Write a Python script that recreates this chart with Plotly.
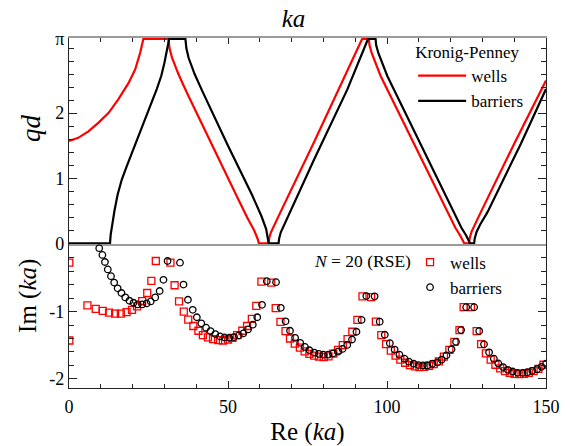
import math
import plotly.graph_objects as go

PI = math.pi

# ---- Top panel: Kronig-Penney band structure qd(ka) ----
kp_wells_ka = [0, 2.9, 6.1, 9.2, 12.4, 15.5, 18.7, 20.8, 22.4, 23.1, 23.4,
               31.3, 31.6, 32.4, 34.4, 37.0, 45.0, 52.5, 56.0, 58.2, 59.4, 59.7,
               62.8, 63.0, 63.5, 64.5, 66.5, 77.0, 87.5, 90.5, 91.5, 92.0, 92.2,
               94.3, 94.5, 95.2, 98.0, 108.5, 119.0, 121.5, 123.0, 123.9, 124.3,
               125.8, 126.0, 126.6, 127.6, 129.5, 140.0, 150.0]
kp_wells_qd = [PI / 2, 1.62, 1.72, 1.85, 2.0, 2.21, 2.46, 2.67, 2.93, 3.08, PI,
               PI, 3.0, 2.85, 2.6, 2.32, 1.5, 0.75, 0.40, 0.2, 0.06, 0,
               0, 0.09, 0.17, 0.28, 0.48, 1.55, 2.64, 2.95, 3.05, 3.11, PI,
               PI, 3.04, 2.92, 2.57, 1.53, 0.48, 0.24, 0.12, 0.05, 0,
               0, 0.08, 0.18, 0.29, 0.48, 1.53, 2.50]

kp_barriers_ka = [0, 12.9, 13.1, 13.5, 14.3, 15.3, 16.6, 18.2, 20.0, 21.5, 23.0, 24.5,
                  26.1, 27.6, 29.0, 30.0, 30.8, 31.2, 31.5,
                  36.6, 36.9, 37.6, 39.5, 42.0, 50.0, 57.5, 60.5, 62.0, 62.6, 62.8,
                  65.9, 66.1, 66.6, 67.7, 69.5, 77.0, 87.5, 92.0, 93.2, 93.7, 94.0,
                  96.4, 96.6, 97.3, 100.1, 110.6, 121.1, 123.4, 124.9, 125.8, 126.1,
                  127.4, 127.6, 128.2, 129.3, 131.6, 142.1, 150.0]
kp_barriers_qd = [0, 0, 0.13, 0.26, 0.5, 0.75, 0.98, 1.19, 1.41, 1.59, 1.78, 1.98,
                  2.18, 2.37, 2.57, 2.77, 2.97, 3.08, PI,
                  PI, 3.0, 2.85, 2.6, 2.33, 1.5, 0.75, 0.42, 0.22, 0.08, 0,
                  0, 0.08, 0.17, 0.29, 0.47, 1.28, 2.36, 2.88, 3.03, 3.1, PI,
                  PI, 3.04, 2.92, 2.57, 1.53, 0.48, 0.24, 0.12, 0.04, 0,
                  0, 0.08, 0.18, 0.29, 0.48, 1.53, 2.37]

# ---- Bottom panel: RSE eigenvalues, N = 20 ----
rse_wells_re = [0.1, 0.1, 5.8, 8.4, 10.6, 12.6, 14.5, 16.3, 18.1, 19.8, 21.4, 23.0, 24.6, 25.9, 27.3,
                31.9, 33.2, 34.6, 36.1, 37.5, 39.1, 40.7, 42.1, 43.7, 45.3, 46.9, 48.4, 50.0, 51.4,
                52.9, 54.5, 56.0, 57.5, 58.9, 60.5,
                63.6, 65.0, 66.5, 68.1, 69.5, 71.0, 72.6, 74.1, 75.6, 77.1, 78.6, 80.1, 81.6, 83.1,
                84.6, 86.1, 87.6, 89.1, 90.7, 92.3,
                95.0, 96.5, 98.2, 99.7, 101.2, 102.7, 104.2, 105.7, 107.2, 108.7, 110.2, 111.7,
                113.2, 114.7, 116.3, 117.9, 119.6, 121.2, 122.8, 124.1,
                126.4, 128.2, 129.6, 131.1, 132.6, 134.1, 135.6, 137.1, 138.6, 140.1, 141.6, 143.1,
                144.6, 146.1, 147.6, 149.2]
rse_wells_im = [-0.275, -1.43, -0.91, -0.96, -0.99, -1.015, -1.03, -1.03, -1.01, -0.975, -0.925, -0.845,
                -0.725, -0.545, -0.25,
                -0.275, -0.61, -0.85, -1.0, -1.12, -1.215, -1.285, -1.35, -1.385, -1.41, -1.425, -1.43,
                -1.415, -1.39, -1.35, -1.285, -1.215, -1.11, -0.915, -0.555,
                -0.57, -0.95, -1.155, -1.29, -1.40, -1.475, -1.535, -1.59, -1.63, -1.655, -1.67, -1.675,
                -1.665, -1.625, -1.57, -1.50, -1.41, -1.30, -1.125, -0.775,
                -0.785, -1.15, -1.35, -1.485, -1.58, -1.655, -1.715, -1.76, -1.795, -1.815, -1.825, -1.82,
                -1.805, -1.78, -1.74, -1.67, -1.57, -1.45, -1.275, -0.935,
                -0.935, -1.29, -1.485, -1.62, -1.715, -1.79, -1.845, -1.885, -1.91, -1.925, -1.93, -1.925,
                -1.91, -1.885, -1.85, -1.79]

rse_barriers_re = [9.5, 10.5, 11.3, 12.2, 13.2, 14.2, 15.3, 16.5, 17.7, 19.0, 20.3, 21.6, 23.0, 24.4,
                   25.7, 27.1, 28.5, 29.7, 31.0,
                   34.9, 36.0, 37.4, 38.9, 40.2, 41.6, 43.1, 44.5, 46.0, 47.5, 48.9, 50.4, 51.9, 53.4,
                   54.8, 56.3, 57.8, 59.2, 60.7, 62.2,
                   65.1, 66.6, 68.1, 69.5, 71.1, 72.7, 74.2, 75.6, 77.1, 78.6, 80.0, 81.5, 83.1, 84.6,
                   86.0, 87.5, 89.0, 90.4, 92.0, 93.5,
                   96.1, 97.7, 99.3, 100.9, 102.4, 103.9, 105.5, 106.9, 108.4, 109.9, 111.3, 112.7,
                   114.3, 115.8, 117.2, 118.7, 120.3, 121.7, 123.3, 124.9,
                   127.4, 129.0, 130.5, 132.1, 133.6, 135.0, 136.5, 138.0, 139.5, 141.1, 142.7, 144.2,
                   145.7, 147.2, 148.6, 150.0]
rse_barriers_im = [-0.06, -0.16, -0.265, -0.375, -0.475, -0.57, -0.655, -0.725, -0.79, -0.84, -0.87,
                   -0.895, -0.895, -0.88, -0.85, -0.79, -0.695, -0.53, -0.25,
                   -0.275, -0.6, -0.825, -0.975, -1.085, -1.175, -1.24, -1.29, -1.335, -1.37, -1.385,
                   -1.39, -1.38, -1.355, -1.325, -1.265, -1.195, -1.085, -0.9, -0.55,
                   -0.565, -0.945, -1.145, -1.285, -1.39, -1.465, -1.525, -1.575, -1.61, -1.63, -1.64,
                   -1.64, -1.62, -1.595, -1.555, -1.495, -1.415, -1.30, -1.125, -0.77,
                   -0.775, -1.15, -1.345, -1.47, -1.565, -1.64, -1.70, -1.745, -1.775, -1.795, -1.80,
                   -1.80, -1.775, -1.755, -1.715, -1.65, -1.56, -1.45, -1.275, -0.935,
                   -0.935, -1.29, -1.487, -1.605, -1.70, -1.77, -1.825, -1.865, -1.89, -1.91, -1.91,
                   -1.90, -1.88, -1.855, -1.82, -1.775]

FONT = "Liberation Serif, Times New Roman, Times, serif"
RED = "#ff0000"
DARK = "#222222"
GREY = "#9a9a9a"

fig = go.Figure()

fig.add_trace(go.Scatter(x=kp_wells_ka, y=kp_wells_qd, mode="lines", name="wells",
                         line=dict(color=RED, width=2.2), xaxis="x", yaxis="y",
                         legend="legend"))
fig.add_trace(go.Scatter(x=kp_barriers_ka, y=kp_barriers_qd, mode="lines", name="barriers",
                         line=dict(color="black", width=2.2), xaxis="x", yaxis="y",
                         legend="legend"))

fig.add_trace(go.Scatter(x=rse_wells_re, y=rse_wells_im, mode="markers", name="wells",
                         marker=dict(symbol="square-open", size=7, color=RED,
                                     line=dict(width=1.3, color=RED)),
                         xaxis="x2", yaxis="y2", legend="legend2"))
fig.add_trace(go.Scatter(x=rse_barriers_re, y=rse_barriers_im, mode="markers", name="barriers",
                         marker=dict(symbol="circle-open", size=6.5, color="black",
                                     line=dict(width=1.3, color="black")),
                         xaxis="x2", yaxis="y2", legend="legend2"))

split = 0.411

fig.update_layout(
    width=570, height=446,
    margin=dict(l=69, r=24, t=38, b=58, autoexpand=False),
    paper_bgcolor="white", plot_bgcolor="white",
    font=dict(family=FONT, size=18, color="black"),
    showlegend=True,
    title=dict(text="<i>ka</i>", x=0.4706, xref="paper", xanchor="center",
               y=0.96, yref="container", yanchor="middle",
               font=dict(family=FONT, size=25, color="black")),
    xaxis=dict(domain=[0, 1], anchor="y", side="top", range=[0, 150], automargin=False,
               showticklabels=False, ticks="inside", ticklen=6, tickwidth=1,
               tickcolor=DARK, tickmode="linear", tick0=0, dtick=50,
               minor=dict(ticks="inside", ticklen=4, tickmode="linear", tick0=0, dtick=10,
                          tickcolor=DARK),
               showline=True, linecolor=GREY, linewidth=1.6, mirror=True,
               showgrid=False, zeroline=False),
    yaxis=dict(domain=[split, 1], anchor="x", range=[-0.012, PI + 0.012], automargin=False,
               tickmode="array", tickvals=[0, 1, 2, PI], ticktext=["0", "1", "2", "π"],
               tickfont=dict(family=FONT, size=18),
               ticks="inside", ticklen=8, tickwidth=1, tickcolor=DARK,
               minor=dict(ticks="inside", ticklen=5, tickmode="linear", tick0=0, dtick=0.2,
                          tickcolor=DARK),
               showline=True, linecolor=DARK, linewidth=1.3, mirror="ticks",
               showgrid=False, zeroline=False),
    xaxis2=dict(domain=[0, 1], anchor="y2", range=[0, 150], matches="x", automargin=False,
                tickmode="array", tickvals=[0, 50, 100, 150],
                tickfont=dict(family=FONT, size=18), ticklabelstandoff=2,
                ticks="inside", ticklen=7, tickwidth=1, tickcolor=DARK,
                minor=dict(ticks="inside", ticklen=4, tickmode="linear", tick0=0, dtick=10,
                           tickcolor=DARK),
                showline=True, linecolor=DARK, linewidth=1.3, mirror=False,
                showgrid=False, zeroline=False,
                title=dict(text="Re (<i>ka</i>)", font=dict(family=FONT, size=25), standoff=8)),
    yaxis2=dict(domain=[0, split], anchor="x2", range=[-2.135, 0], automargin=False,
                tickmode="array", tickvals=[-2, -1], ticktext=["-2", "-1"],
                tickfont=dict(family=FONT, size=18),
                ticks="inside", ticklen=8, tickwidth=1, tickcolor=DARK,
                minor=dict(ticks="inside", ticklen=5, tickmode="linear", tick0=0, dtick=0.2,
                           tickcolor=DARK),
                showline=True, linecolor=DARK, linewidth=1.3, mirror="ticks",
                showgrid=False, zeroline=False),
    legend=dict(x=0.7215, y=1.0056, xanchor="left", yanchor="top",
                bgcolor="rgba(0,0,0,0)", font=dict(family=FONT, size=17),
                title=dict(text="Kronig-Penney", font=dict(family=FONT, size=17), side="top"),
                itemwidth=48, tracegroupgap=0),
    legend2=dict(x=0.715, y=0.41, xanchor="left", yanchor="top",
                 bgcolor="rgba(0,0,0,0)", font=dict(family=FONT, size=17),
                 itemwidth=30, tracegroupgap=0),
    annotations=[
        dict(text="<i>qd</i>", textangle=-90, x=-0.0797, y=0.743, xref="paper", yref="paper",
             xanchor="center", yanchor="middle", showarrow=False,
             font=dict(family=FONT, size=27)),
        dict(text="Im (<i>ka</i>)", textangle=-90, x=-0.086, y=0.263, xref="paper", yref="paper",
             xanchor="center", yanchor="middle", showarrow=False,
             font=dict(family=FONT, size=25)),
        dict(text="<i>N</i> = 20 (RSE)", x=(413 - 69) / 477, y=(388 - 261) / 350,
             xref="paper", yref="paper", xanchor="right", yanchor="middle", showarrow=False,
             font=dict(family=FONT, size=17.5)),
    ],
)

fig.write_html("out.html")
